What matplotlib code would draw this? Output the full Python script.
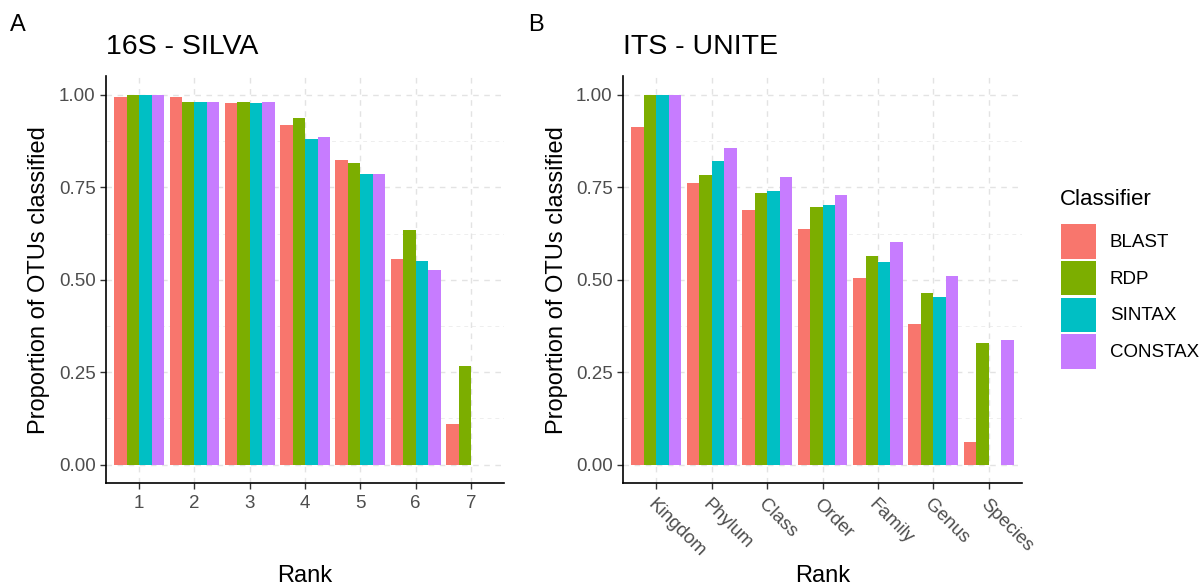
import numpy as np
import matplotlib
matplotlib.use("Agg")
import matplotlib.pyplot as plt
from matplotlib.patches import Patch

plt.rcParams['font.family'] = ['Liberation Sans', 'DejaVu Sans']

# --- DATOS ---
clasificadores = ["BLAST", "RDP", "SINTAX", "CONSTAX"]
colores = ["#F8766D", "#7CAE00", "#00BFC4", "#C77CFF"]

rangos_16s = ["1", "2", "3", "4", "5", "6", "7"]
silva_blast = [0.994, 0.994, 0.977, 0.918, 0.823, 0.557, 0.110]
silva_rdp = [0.999, 0.982, 0.980, 0.938, 0.817, 0.635, 0.266]
silva_sintax = [1.000, 0.980, 0.977, 0.880, 0.787, 0.550, 0.0]
silva_constax = [1.000, 0.982, 0.980, 0.885, 0.787, 0.527, 0.0]

rangos_its = ["Kingdom", "Phylum", "Class", "Order", "Family", "Genus", "Species"]
unite_blast = [0.912, 0.762, 0.688, 0.637, 0.504, 0.379, 0.062]
unite_rdp = [1.000, 0.784, 0.734, 0.696, 0.563, 0.464, 0.329]
unite_sintax = [1.000, 0.820, 0.740, 0.702, 0.547, 0.453, 0.0]
unite_constax = [1.000, 0.856, 0.778, 0.728, 0.603, 0.511, 0.336]

yticks = [0.0, 0.25, 0.5, 0.75, 1.0]


def panel(ax, rangos, series, titulo, rotar=False):
    x = np.arange(1, len(rangos) + 1)
    ancho = 0.9 / len(series)
    for i, (vals, col) in enumerate(zip(series, colores)):
        ax.bar(x - 0.45 + ancho * (i + 0.5), vals, width=ancho, color=col,
               edgecolor='none', zorder=2)

    ax.set_xlim(0.4, len(rangos) + 0.6)
    ax.set_ylim(-0.05, 1.05)

    # cuadricula discontinua estilo ggplot
    for v in yticks:
        ax.axhline(v, color='#e3e3e3', lw=1.0, ls=(0, (4, 4)), zorder=0)
    for v in np.arange(0.125, 1.0, 0.25):
        ax.axhline(v, color='#eeeeee', lw=0.7, ls=(0, (4, 4)), zorder=0)
    for v in x:
        ax.axvline(v, color='#e3e3e3', lw=1.0, ls=(0, (4, 4)), zorder=0)

    ax.set_yticks(yticks)
    ax.set_yticklabels([f"{v:.2f}" for v in yticks])
    ax.set_xticks(x)
    if rotar:
        ax.set_xticklabels(rangos, rotation=-45, ha='left', va='top',
                           rotation_mode='anchor')
    else:
        ax.set_xticklabels(rangos)

    for s in ['top', 'right']:
        ax.spines[s].set_visible(False)
    for s in ['left', 'bottom']:
        ax.spines[s].set_linewidth(1.2)
    ax.tick_params(axis='both', labelsize=13.5, colors='#333333', length=4,
                   width=1.0, labelcolor='#4d4d4d')
    ax.tick_params(axis='x', pad=5)
    ax.set_xlabel("Rank", fontsize=17, labelpad=38 if not rotar else 4)
    ax.set_ylabel("Proportion of OTUs classified", fontsize=17, labelpad=6)
    ax.set_title(titulo, fontsize=20.5, loc='left', pad=16)


fig = plt.figure(figsize=(12.03, 5.88), dpi=100)
ax1 = fig.add_axes([0.0881, 0.1786, 0.331, 0.6913])
ax2 = fig.add_axes([0.5179, 0.1786, 0.3317, 0.6913])

panel(ax1, rangos_16s, [silva_blast, silva_rdp, silva_sintax, silva_constax],
      "16S - SILVA")
panel(ax2, rangos_its, [unite_blast, unite_rdp, unite_sintax, unite_constax],
      "ITS - UNITE", rotar=True)

fig.text(0.008, 0.957, "A", fontsize=17, va='center')
fig.text(0.439, 0.957, "B", fontsize=17, va='center')

# leyenda: titulo aparte para controlar el espacio
fig.text(1060 / 1203, 1 - 200 / 588, "Classifier", fontsize=16, va='center')
handles = [Patch(facecolor=c, edgecolor='none') for c in colores]
fig.legend(handles, clasificadores, loc='upper left',
           bbox_to_anchor=(0.871, 1 - 211 / 588), frameon=False, fontsize=13.5,
           handlelength=1.85, handleheight=2.45,
           handletextpad=0.75, labelspacing=0.12, borderpad=0.2)

fig.savefig("out.png", dpi=100)
